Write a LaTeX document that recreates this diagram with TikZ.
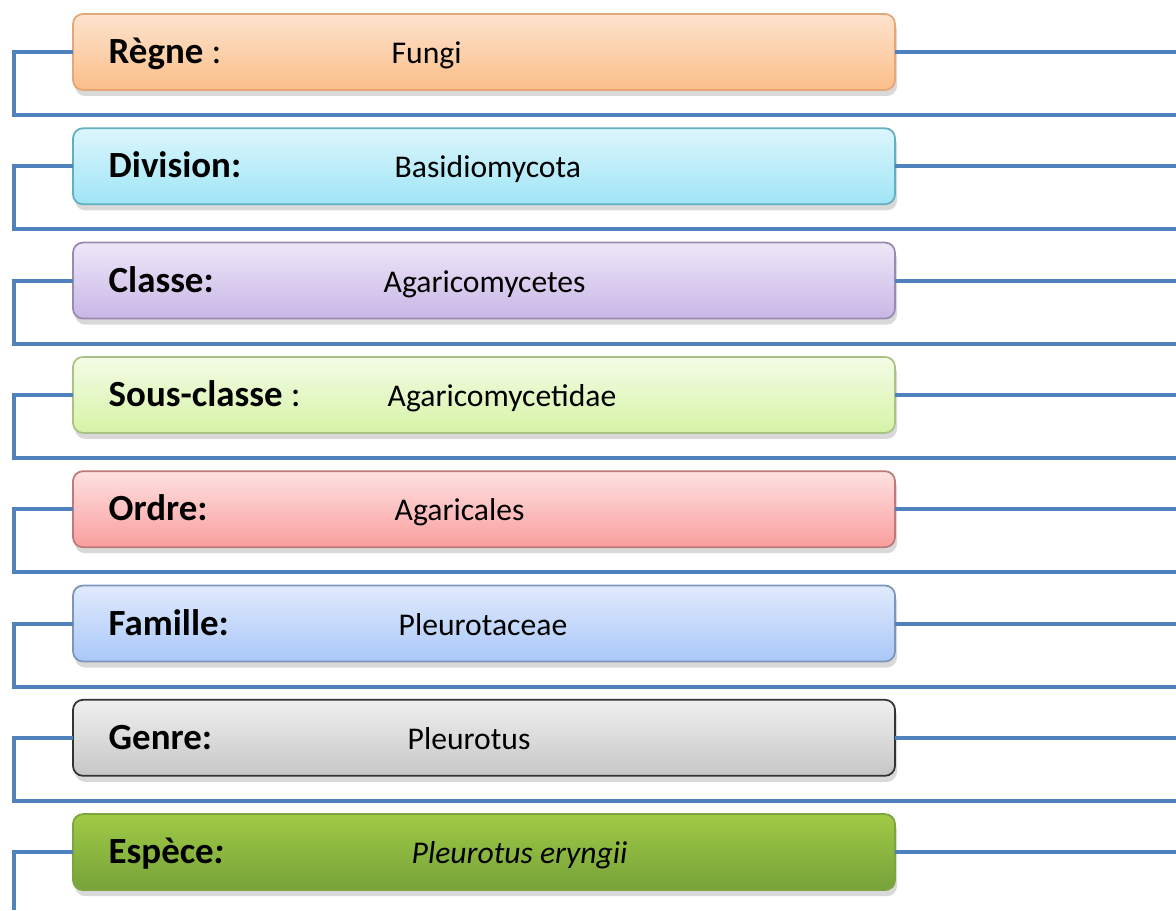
\documentclass[tikz,border=0pt]{standalone}
\usepackage{fontspec}
\setmainfont{Carlito}
\usepackage{xcolor}
\usetikzlibrary{positioning, shadows}

\definecolor{regneT}{HTML}{FDE3CE}   \definecolor{regneB}{HTML}{FBBE88}   \definecolor{regneD}{HTML}{E5A678}
\definecolor{divT}{HTML}{DCF6FD}     \definecolor{divB}{HTML}{9FE5F6}     \definecolor{divD}{HTML}{62AFC0}
\definecolor{classeT}{HTML}{EEE7F8}  \definecolor{classeB}{HTML}{C8B6E6}  \definecolor{classeD}{HTML}{9A8AB0}
\definecolor{sousT}{HTML}{F4FCE6}    \definecolor{sousB}{HTML}{D6F3A6}    \definecolor{sousD}{HTML}{A9C386}
\definecolor{ordreT}{HTML}{FEE1E1}   \definecolor{ordreB}{HTML}{FA9E9E}   \definecolor{ordreD}{HTML}{BE7A7A}
\definecolor{famT}{HTML}{E1EBFD}     \definecolor{famB}{HTML}{A9C7F8}     \definecolor{famD}{HTML}{7E95BA}
\definecolor{genreT}{HTML}{F0F0F0}   \definecolor{genreB}{HTML}{C6C6C6}   \definecolor{genreD}{HTML}{333333}
\definecolor{espT}{HTML}{A0CA45}     \definecolor{espB}{HTML}{76A23A}     \definecolor{espD}{HTML}{7DA53E}
\definecolor{linkblue}{HTML}{4F81BD}

\begin{document}
\begin{tikzpicture}[
      node distance=3.83mm,
      box/.style={rounded corners=1mm, minimum width=82.2mm, minimum height=7.6mm, inner sep=0pt, outer sep=0pt, line width=0.5pt,
                  drop shadow={shadow xshift=0.2mm, shadow yshift=-0.6mm, opacity=0.3}},
      boxcol/.style n args={3}{top color=#1, bottom color=#2, draw=#3},
      lbl/.style={inner sep=0pt, anchor=base west, yshift=-1.15mm, font=\fontsize{10.5}{12}\selectfont},
      val/.style={inner sep=0pt, anchor=base west, yshift=-1.15mm, font=\fontsize{9}{11}\selectfont},
      ln/.style={draw=linkblue, line width=0.4mm}
    ]
    \useasboundingbox (0,0) rectangle (117.6mm,-91mm);
    \coordinate (edge) at (117.6mm,0);
    \coordinate (foot) at (1.4mm,-91mm);

    % taxonomy boxes
    \node[box, boxcol={regneT}{regneB}{regneD}] (regne) at (48.4mm,-5.2mm) {};
    \node[box, boxcol={divT}{divB}{divD}, below=of regne] (division) {};
    \node[box, boxcol={classeT}{classeB}{classeD}, below=of division] (classe) {};
    \node[box, boxcol={sousT}{sousB}{sousD}, below=of classe] (sousclasse) {};
    \node[box, boxcol={ordreT}{ordreB}{ordreD}, below=of sousclasse] (ordre) {};
    \node[box, boxcol={famT}{famB}{famD}, below=of ordre] (famille) {};
    \node[box, boxcol={genreT}{genreB}{genreD}, below=of famille] (genre) {};
    \node[box, boxcol={espT}{espB}{espD}, below=of genre] (espece) {};

    % labels and values
    \node[right=3.5mm of regne.west, lbl] (regne-l) {\textbf{Règne} :};
    \node[right=31.8mm of regne.west, val] (regne-v) {Fungi};
    \node[right=3.5mm of division.west, lbl] (division-l) {\textbf{Division:}};
    \node[right=32.1mm of division.west, val] (division-v) {Basidiomycota};
    \node[right=3.5mm of classe.west, lbl] (classe-l) {\textbf{Classe:}};
    \node[right=31.0mm of classe.west, val] (classe-v) {Agaricomycetes};
    \node[right=3.5mm of sousclasse.west, lbl] (sousclasse-l) {\textbf{Sous-classe} :};
    \node[right=31.4mm of sousclasse.west, val] (sousclasse-v) {Agaricomycetidae};
    \node[right=3.5mm of ordre.west, lbl] (ordre-l) {\textbf{Ordre:}};
    \node[right=32.1mm of ordre.west, val] (ordre-v) {Agaricales};
    \node[right=3.5mm of famille.west, lbl] (famille-l) {\textbf{Famille:}};
    \node[right=32.5mm of famille.west, val] (famille-v) {Pleurotaceae};
    \node[right=3.5mm of genre.west, lbl] (genre-l) {\textbf{Genre:}};
    \node[right=33.4mm of genre.west, val] (genre-v) {Pleurotus};
    \node[right=3.5mm of espece.west, lbl] (espece-l) {\textbf{Espèce\textit{:}}};
    \node[right=33.8mm of espece.west, val] (espece-v) {\textit{Pleurotus eryngii}};

    % connectors
    \draw[ln] (regne.west) -- ++(-5.9mm,0) |- ([yshift=-6.3mm]regne.center -| edge); \draw[ln] (regne.east) -- (regne.east -| edge);
    \draw[ln] (division.west) -- ++(-5.9mm,0) |- ([yshift=-6.3mm]division.center -| edge); \draw[ln] (division.east) -- (division.east -| edge);
    \draw[ln] (classe.west) -- ++(-5.9mm,0) |- ([yshift=-6.3mm]classe.center -| edge); \draw[ln] (classe.east) -- (classe.east -| edge);
    \draw[ln] (sousclasse.west) -- ++(-5.9mm,0) |- ([yshift=-6.3mm]sousclasse.center -| edge); \draw[ln] (sousclasse.east) -- (sousclasse.east -| edge);
    \draw[ln] (ordre.west) -- ++(-5.9mm,0) |- ([yshift=-6.3mm]ordre.center -| edge); \draw[ln] (ordre.east) -- (ordre.east -| edge);
    \draw[ln] (famille.west) -- ++(-5.9mm,0) |- ([yshift=-6.3mm]famille.center -| edge); \draw[ln] (famille.east) -- (famille.east -| edge);
    \draw[ln] (genre.west) -- ++(-5.9mm,0) |- ([yshift=-6.3mm]genre.center -| edge); \draw[ln] (genre.east) -- (genre.east -| edge);
    \draw[ln] (espece.west) -| (foot); \draw[ln] (espece.east) -- (espece.east -| edge);
  \end{tikzpicture}
\end{document}
